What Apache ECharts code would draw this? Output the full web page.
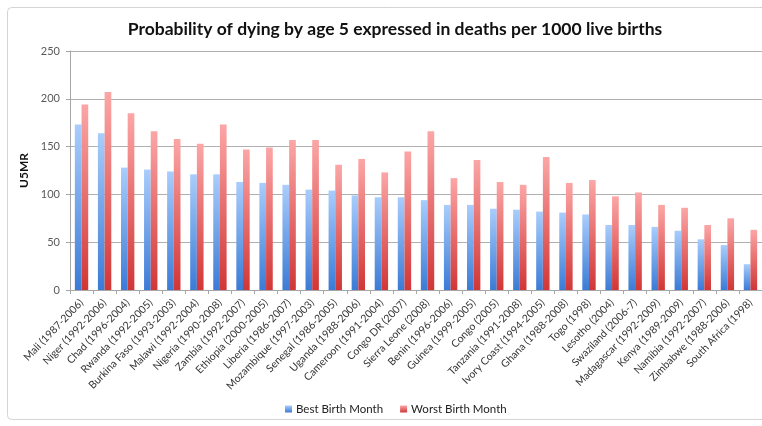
<!DOCTYPE html>
<html>
<head>
<meta charset="utf-8">
<script src="https://cdn.jsdelivr.net/npm/echarts@6/dist/echarts.min.js"></script>
<style>
  html, body { margin: 0; padding: 0; background: #ffffff; }
  #chart { width: 762px; height: 426px; }
</style>
</head>
<body>
<div id="chart"></div>
<script>
// Countries (survey years) in descending order of the best-month rate
const countries = [
  'Mali (1987-2006)', 'Niger (1992-2006)', 'Chad (1996-2004)', 'Rwanda (1992-2005)',
  'Burkina Faso (1993-2003)', 'Malawi (1992-2004)', 'Nigeria (1990-2008)', 'Zambia (1992-2007)',
  'Ethiopia (2000-2005)', 'Liberia (1986-2007)', 'Mozambique (1997-2003)', 'Senegal (1986-2005)',
  'Uganda (1988-2006)', 'Cameroon (1991-2004)', 'Congo DR (2007)', 'Sierra Leone (2008)',
  'Benin (1996-2006)', 'Guinea (1999-2005)', 'Congo (2005)', 'Tanzania (1991-2008)',
  'Ivory Coast (1994-2005)', 'Ghana (1988-2008)', 'Togo (1998)', 'Lesotho (2004)',
  'Swaziland (2006-7)', 'Madagascar (1992-2009)', 'Kenya (1989-2009)', 'Namibia (1992-2007)',
  'Zimbabwe (1988-2006)', 'South Africa (1998)'
];

// Under-5 mortality (deaths per 1000 live births) by birth month
const bestBirthMonth = [
  173, 164, 128, 126, 124, 121, 121, 113, 112, 110,
  105, 104, 99, 97, 97, 94, 89, 89, 85, 84,
  82, 81, 79, 68, 68, 66, 62, 53, 47, 27
];
const worstBirthMonth = [
  194, 207, 185, 166, 158, 153, 173, 147, 149, 157,
  157, 131, 137, 123, 145, 166, 117, 136, 113, 110,
  139, 112, 115, 98, 102, 89, 86, 68, 75, 63
];

const yTicks = { min: 0, max: 250, interval: 50 };

const FONT = 'Lato, "Open Sans", sans-serif';

function vGrad(top, bottom) {
  return new echarts.graphic.LinearGradient(0, 0, 0, 1, [
    { offset: 0, color: top },
    { offset: 1, color: bottom }
  ]);
}

const chart = echarts.init(document.getElementById('chart'), null, { renderer: 'canvas' });

chart.setOption({
  animation: false,
  backgroundColor: '#ffffff',
  textStyle: { fontFamily: FONT },
  title: {
    text: 'Probability of dying by age 5 expressed in deaths per 1000 live births',
    left: 390,
    textAlign: 'center',
    top: 15,
    textStyle: { fontFamily: FONT, fontSize: 17.5, fontWeight: 'bold', color: '#111111' }
  },
  graphic: [{
    type: 'rect',
    shape: { x: 7.5, y: 7.5, width: 780, height: 412, r: 4 },
    style: { fill: 'none', stroke: '#d4d4d4', lineWidth: 1 },
    silent: true,
    z: -1
  }],
  legend: {
    bottom: 6,
    left: 280,
    itemWidth: 7,
    itemHeight: 7,
    itemGap: 17,
    icon: 'rect',
    textStyle: { fontFamily: FONT, fontSize: 11.5, color: '#222222', padding: [0, 0, 0, -1] },
    data: ['Best Birth Month', 'Worst Birth Month']
  },
  grid: { left: 70, top: 51, width: 693, height: 239, containLabel: false },
  xAxis: {
    type: 'category',
    data: countries,
    axisLine: { lineStyle: { color: '#a6a6a6', width: 1 } },
    axisTick: { show: true, alignWithLabel: false, interval: 0, length: 4, lineStyle: { color: '#a6a6a6' } },
    axisLabel: {
      interval: 0,
      rotate: 46,
      margin: 11,
      fontFamily: FONT,
      fontSize: 10.5,
      color: '#333333'
    }
  },
  yAxis: {
    type: 'value',
    min: yTicks.min,
    max: yTicks.max,
    interval: yTicks.interval,
    name: 'U5MR',
    nameLocation: 'middle',
    nameGap: 37,
    nameRotate: 90,
    nameTextStyle: { fontFamily: FONT, fontSize: 12, fontWeight: 'bold', color: '#111111' },
    axisLine: { show: true, lineStyle: { color: '#a6a6a6', width: 1 } },
    axisTick: { show: true, length: 4, lineStyle: { color: '#a6a6a6' } },
    axisLabel: { fontFamily: FONT, fontSize: 11, color: '#595959', margin: 10 },
    splitLine: { show: true, lineStyle: { color: '#b0b0b0', width: 1 } }
  },
  series: [
    {
      name: 'Best Birth Month',
      type: 'bar',
      data: bestBirthMonth,
      barGap: '0%',
      barCategoryGap: '42%',
      itemStyle: { color: vGrad('#a9cdfc', '#3b7bd6') }
    },
    {
      name: 'Worst Birth Month',
      type: 'bar',
      data: worstBirthMonth,
      barGap: '0%',
      barCategoryGap: '42%',
      itemStyle: { color: vGrad('#fca6a6', '#d13636') }
    }
  ]
});
</script>
</body>
</html>
